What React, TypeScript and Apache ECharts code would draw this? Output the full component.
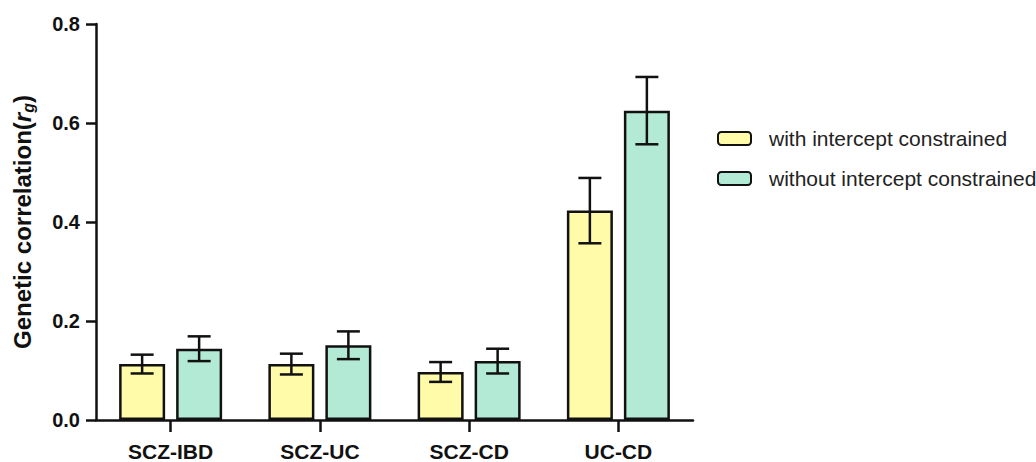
import React, { useEffect, useRef } from "react";
import * as echarts from "echarts";

const categories = ["SCZ-IBD", "SCZ-UC", "SCZ-CD", "UC-CD"];
const seriesNames = ["with intercept constrained", "without intercept constrained"];
const withVals = [0.113, 0.113, 0.097, 0.423];
const withErr = [0.019, 0.021, 0.02, 0.066];
const withoutVals = [0.144, 0.151, 0.119, 0.625];
const withoutErr = [0.025, 0.028, 0.025, 0.068];
const yTicks = [0, 0.2, 0.4, 0.6, 0.8];

const BAR_W = 46;
const BAR_GAP = 11;
const COLORS = ["#FFFBA8", "#B3EAD5"];

function errorSeries(vals: number[], errs: number[], offset: number) {
  return {
    type: "custom",
    silent: true,
    z: 10,
    data: vals.map((v, i) => [i, v - errs[i], v + errs[i]]),
    renderItem: (params: any, api: any) => {
      const lo = api.coord([api.value(0), api.value(1)]);
      const hi = api.coord([api.value(0), api.value(2)]);
      const x = lo[0] + offset;
      const cap = 11.5;
      const style = { stroke: "#111", lineWidth: 2.5 };
      return {
        type: "group",
        children: [
          { type: "line", shape: { x1: x, y1: lo[1], x2: x, y2: hi[1] }, style },
          { type: "line", shape: { x1: x - cap, y1: lo[1], x2: x + cap, y2: lo[1] }, style },
          { type: "line", shape: { x1: x - cap, y1: hi[1], x2: x + cap, y2: hi[1] }, style },
        ],
      };
    },
  };
}

export default function App() {
  const ref = useRef<HTMLDivElement>(null);
  useEffect(() => {
    const chart = echarts.init(ref.current!, null, { renderer: "svg" });
    const off = (BAR_W + BAR_GAP) / 2;
    chart.setOption({
      animation: false,
      textStyle: { fontFamily: "Liberation Sans, Arial, sans-serif" },
      grid: { left: 96, top: 24, width: 597, height: 400 },
      legend: {
        orient: "vertical",
        left: 712,
        top: 123,
        itemWidth: 33,
        itemHeight: 13,
        itemGap: 19,
        data: seriesNames,
        textStyle: { fontSize: 21, color: "#222", padding: [0, 0, 0, 13] },
      },
      xAxis: {
        type: "category",
        data: categories,
        axisLine: { lineStyle: { color: "#111", width: 2.5 } },
        axisTick: { show: true, alignWithLabel: true, length: 12, lineStyle: { color: "#111", width: 2.5 } },
        axisLabel: { fontSize: 21, fontWeight: "bold", color: "#111", margin: 21 },
      },
      yAxis: {
        type: "value",
        min: 0,
        max: 0.8,
        interval: 0.2,
        name: "{a|Genetic correlation(}{r|r}{g|g}{a|)}",
        nameLocation: "middle",
        nameRotate: 90,
        nameGap: 60,
        nameTextStyle: {
          rich: {
            a: { fontSize: 24, fontWeight: "bold", color: "#111" },
            r: { fontSize: 24, fontWeight: "bold", fontStyle: "italic", color: "#111" },
            g: { fontSize: 16, fontWeight: "bold", fontStyle: "italic", color: "#111", padding: [11, 0, 0, 0] },
          },
        },
        splitLine: { show: false },
        axisLine: { show: true, lineStyle: { color: "#111", width: 2.5 } },
        axisTick: { show: true, length: 10, lineStyle: { color: "#111", width: 2.5 } },
        axisLabel: {
          fontSize: 20,
          fontWeight: "bold",
          color: "#111",
          margin: 16,
          formatter: (v: number) => yTicks.includes(Math.round(v * 10) / 10) ? v.toFixed(1) : "",
        },
      },
      series: [
        {
          name: seriesNames[0],
          type: "bar",
          data: withVals,
          barWidth: BAR_W,
          barGap: (BAR_GAP / BAR_W) * 100 + "%",
          itemStyle: { color: COLORS[0], borderColor: "#111", borderWidth: 2.5 },
        },
        {
          name: seriesNames[1],
          type: "bar",
          data: withoutVals,
          barWidth: BAR_W,
          barGap: (BAR_GAP / BAR_W) * 100 + "%",
          itemStyle: { color: COLORS[1], borderColor: "#111", borderWidth: 2.5 },
        },
        errorSeries(withVals, withErr, -off),
        errorSeries(withoutVals, withoutErr, off),
      ],
    });
    return () => chart.dispose();
  }, []);
  return <div ref={ref} style={{ width: 1036, height: 462, position: "absolute", left: 0, top: 0 }} />;
}
